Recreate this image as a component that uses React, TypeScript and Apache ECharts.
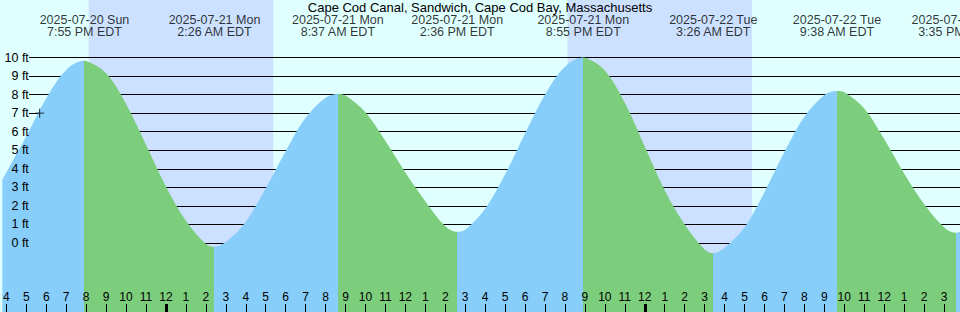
import React, { useEffect, useRef } from "react";
import * as echarts from "echarts";

// ---- data (hours counted from 2025-07-20 00:00 EDT) ----
const TITLE = "Cape Cod Canal, Sandwich, Cape Cod Bay, Massachusetts";

const X_MIN = 15.8;
const X_MAX = 63.8;
const Y_MIN = -3.72;
const Y_MAX = 13.1;

const hourTicks = [
  16, 17, 18, 19, 20, 21, 22, 23, 24, 25, 26, 27, 28, 29, 30, 31, 32, 33, 34, 35, 36, 37, 38, 39,
  40, 41, 42, 43, 44, 45, 46, 47, 48, 49, 50, 51, 52, 53, 54, 55, 56, 57, 58, 59, 60, 61, 62, 63,
];
const midnightTicks = [24, 48];
const footTicks = [0, 1, 2, 3, 4, 5, 6, 7, 8, 9, 10];

const extremeHours = [19.917, 26.433, 32.617, 38.6, 44.917, 51.433, 57.633, 63.583];
const extremeHeights = [9.82, -0.2, 8.03, 0.6, 10.0, -0.55, 8.2, 0.55];
const extremeDates = [
  "2025-07-20 Sun",
  "2025-07-21 Mon",
  "2025-07-21 Mon",
  "2025-07-21 Mon",
  "2025-07-21 Mon",
  "2025-07-22 Tue",
  "2025-07-22 Tue",
  "2025-07-22 Tue",
];
const extremeTimes = [
  "7:55 PM EDT",
  "2:26 AM EDT",
  "8:37 AM EDT",
  "2:36 PM EDT",
  "8:55 PM EDT",
  "3:26 AM EDT",
  "9:38 AM EDT",
  "3:35 PM EDT",
];

const curveHours = [
  15.8, 16, 17, 18, 19, 20, 21, 22, 23, 24, 25, 26, 27, 28, 29, 30, 31, 32, 33, 34, 35, 36, 37, 38,
  39, 40, 41, 42, 43, 44, 45, 46, 47, 48, 49, 50, 51, 52, 53, 54, 55, 56, 57, 58, 59, 60, 61, 62,
  63, 63.8,
];
const curveHeights = [
  3.4, 3.8, 5.75, 7.8, 9.33, 9.81, 9.15, 7.5, 5.3, 3.05, 1.2, -0.05, 0.05, 1.15, 2.95, 4.95, 6.75,
  7.83, 7.95, 7.05, 5.5, 3.8, 2.25, 0.9, 0.72, 1.85, 3.7, 5.9, 8.0, 9.5, 9.99, 9.3, 7.56, 5.2, 2.85,
  1.0, -0.35, -0.25, 0.85, 2.75, 4.9, 6.8, 7.98, 8.13, 7.25, 5.6, 3.75, 2.1, 0.85, 0.59,
];

const nightStarts = [20.13, 44.13];
const nightEnds = [29.38, 53.38];

const nowHour = 17.67;
const nowHeight = 7.0;

// ---- styles ----
const W = 960;
const H = 312;
const DAY = "#e0ffff";
const NIGHT = "#cce0ff";
const FLOOD = "#87cefa";
const EBB = "#7ccd7c";
const FONT = "Liberation Sans";

export default function App() {
  const ref = useRef<HTMLDivElement>(null);

  useEffect(() => {
    document.body.style.margin = "0";
    if (!ref.current) return;
    const chart = echarts.init(ref.current, null, { renderer: "svg", width: W, height: H });

    const pts: [number, number][] = [];
    curveHours.forEach((h, i) => pts.push([h, curveHeights[i]]));
    extremeHours.forEach((h, i) => pts.push([h, extremeHeights[i]]));
    pts.sort((a, b) => a[0] - b[0]);

    const pieces: any[] = [];
    let prev = X_MIN;
    let rising = true;
    extremeHours.forEach((h) => {
      pieces.push({ gte: prev, lt: h, color: rising ? FLOOD : EBB });
      prev = h;
      rising = !rising;
    });
    pieces.push({ gte: prev, lte: X_MAX + 1, color: rising ? FLOOD : EBB });

    const span = Y_MAX - Y_MIN;
    const linesTop = (H * (Y_MAX - 10)) / span; // px from top to the 10 ft line
    const linesBottom = (H * (0 - Y_MIN)) / span; // px from bottom to the 0 ft line

    const option: any = {
      animation: false,
      backgroundColor: DAY,
      textStyle: { fontFamily: FONT, color: "#000" },
      title: {
        text: TITLE,
        left: "center",
        top: 0,
        padding: 0,
        textStyle: { fontFamily: FONT, fontSize: 13, fontWeight: "normal", color: "#000", lineHeight: 14 },
      },
      grid: [
        { left: 0, right: 0, top: 0, bottom: 0 },
        { left: 29, right: 0, top: linesTop, bottom: linesBottom },
      ],
      visualMap: {
        type: "piecewise",
        show: false,
        dimension: 0,
        seriesIndex: 2,
        pieces,
      },
      xAxis: [
        {
          type: "value",
          gridIndex: 0,
          min: X_MIN,
          max: X_MAX,
          position: "bottom",
          z: 10,
          axisLine: { show: false, onZero: false },
          splitLine: { show: false },
          axisTick: {
            show: true,
            inside: true,
            length: 8,
            customValues: hourTicks,
            lineStyle: { color: "#000", width: 1 },
          },
          axisLabel: {
            show: true,
            inside: true,
            margin: 9,
            customValues: hourTicks,
            fontSize: 12,
            lineHeight: 12,
            color: "#000",
            fontFamily: FONT,
            formatter: (v: number) => {
              const h = Math.round(v) % 12;
              return String(h === 0 ? 12 : h);
            },
          },
        },
        {
          type: "value",
          gridIndex: 0,
          min: X_MIN,
          max: X_MAX,
          position: "bottom",
          z: 11,
          axisLine: { show: false, onZero: false },
          splitLine: { show: false },
          axisLabel: { show: false },
          axisTick: {
            show: true,
            inside: true,
            length: 8,
            customValues: midnightTicks,
            lineStyle: { color: "#000", width: 3 },
          },
        },
        {
          type: "value",
          gridIndex: 1,
          min: X_MIN,
          max: X_MAX,
          show: false,
          axisLine: { show: false, onZero: false },
        },
      ],
      yAxis: [
        {
          type: "value",
          gridIndex: 0,
          min: Y_MIN,
          max: Y_MAX,
          z: 10,
          axisLine: { show: false, onZero: false },
          axisTick: { show: false },
          splitLine: { show: false },
          axisLabel: {
            show: true,
            inside: true,
            margin: 26.5,
            align: "right",
            customValues: footTicks,
            fontSize: 12.5,
            color: "#000",
            fontFamily: FONT,
            formatter: (v: number) => `${v} ft`,
          },
        },
        {
          type: "value",
          gridIndex: 1,
          min: 0,
          max: 10,
          interval: 1,
          z: 2,
          axisLine: { show: false, onZero: false },
          axisTick: { show: false },
          axisLabel: { show: false },
          splitLine: { show: true, lineStyle: { color: "#000", width: 1 } },
        },
      ],
      series: [
        {
          // night shading
          type: "line",
          xAxisIndex: 0,
          yAxisIndex: 0,
          z: 1,
          data: [],
          silent: true,
          markArea: {
            silent: true,
            z: 1,
            itemStyle: { color: NIGHT, opacity: 1 },
            data: nightStarts.map((s, i) => [{ xAxis: s }, { xAxis: nightEnds[i] }]),
          },
        },
        {
          type: "line",
          xAxisIndex: 2,
          yAxisIndex: 1,
          data: [],
          z: 1,
        },
        {
          // tide curve
          type: "line",
          xAxisIndex: 0,
          yAxisIndex: 0,
          z: 4,
          data: pts,
          smooth: 0.35,
          showSymbol: false,
          silent: true,
          lineStyle: { width: 0, opacity: 0 },
          areaStyle: { origin: "start", opacity: 1 },
        },
        {
          // "now" marker
          type: "scatter",
          xAxisIndex: 0,
          yAxisIndex: 0,
          z: 6,
          silent: true,
          data: [[nowHour, nowHeight]],
          symbol: "path://M0,5L10,5M5,0L5,10",
          symbolSize: 9,
          itemStyle: { color: "#000", borderColor: "#000", borderWidth: 1 },
        },
        {
          // extreme labels at top
          type: "scatter",
          xAxisIndex: 0,
          yAxisIndex: 0,
          z: 7,
          silent: true,
          clip: false,
          symbolSize: 0,
          data: extremeHours.map((h) => [h, Y_MAX]),
          label: {
            show: true,
            position: "inside",
            offset: [0, 26],
            align: "center",
            verticalAlign: "middle",
            fontSize: 12.5,
            lineHeight: 12,
            color: "#000",
            fontFamily: FONT,
            formatter: (p: any) => `${extremeDates[p.dataIndex]}\n${extremeTimes[p.dataIndex]}`,
          },
        },
      ],
    };

    chart.setOption(option);
    return () => chart.dispose();
  }, []);

  return <div ref={ref} style={{ width: W, height: H, background: DAY }} />;
}
